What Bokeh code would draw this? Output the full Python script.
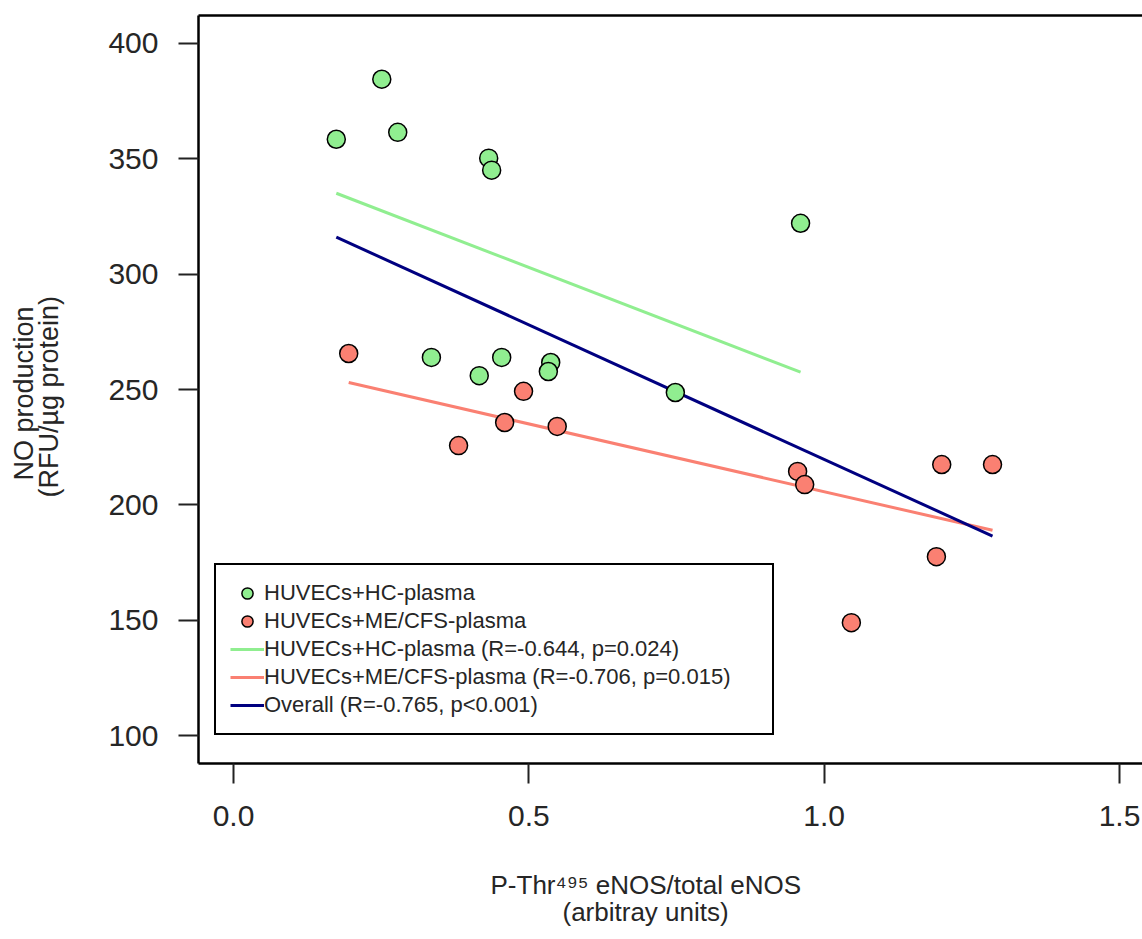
from bokeh.plotting import figure
from bokeh.models import (Range1d, FixedTicker, NumeralTickFormatter, Legend,
                          LegendItem, Title, LinearAxis, CustomJSTickFormatter)
from bokeh.embed import file_html
from bokeh.resources import INLINE

# ---- data ----
hc_x = [0.174, 0.251, 0.278, 0.432, 0.437, 0.960, 0.335, 0.454, 0.416, 0.537, 0.533, 0.748]
hc_y = [358.4, 384.4, 361.4, 350.2, 345.0, 322.0, 263.9, 263.9, 256.0, 261.7, 257.8, 248.7]

me_x = [0.195, 0.381, 0.459, 0.491, 0.548, 0.955, 0.967, 1.199, 1.285, 1.190, 1.046]
me_y = [265.6, 225.7, 235.7, 249.2, 234.0, 214.5, 208.8, 217.5, 217.5, 177.6, 149.0]

fit_hc_x = [0.174, 0.960]
fit_hc_y = [335.0, 257.5]
fit_me_x = [0.195, 1.285]
fit_me_y = [253.0, 189.0]
fit_all_x = [0.174, 1.285]
fit_all_y = [316.0, 186.5]

x_ticks = [0.0, 0.5, 1.0, 1.5]
y_ticks = [100, 150, 200, 250, 300, 350, 400]

legend_labels = [
    "HUVECs+HC-plasma",
    "HUVECs+ME/CFS-plasma",
    "HUVECs+HC-plasma (R=-0.644, p=0.024)",
    "HUVECs+ME/CFS-plasma (R=-0.706, p=0.015)",
    "Overall (R=-0.765, p<0.001)",
]
x_title = ["P-Thr\u2074\u2079\u2075 eNOS/total eNOS", "(arbitray units)"]
y_title = ["NO production", "(RFU/\u00b5g protein)"]

GREEN = "#90EE90"
RED = "#FA8072"
NAVY = "#000080"
FONT = "Liberation Sans"
TXT = "#262626"

p = figure(frame_width=944, frame_height=748,
           min_border_left=198, min_border_right=0, min_border_top=15, min_border_bottom=176,
           x_range=Range1d(-0.0593, 1.5389), y_range=Range1d(88, 412),
           output_backend="svg", toolbar_location=None, title=None,
           background_fill_color="white", border_fill_color="white")

p.grid.visible = False
p.outline_line_color = None

for ax in (p.xaxis[0], p.yaxis[0]):
    ax.axis_line_color = "black"
    ax.axis_line_width = 2.5
    ax.minor_tick_line_color = None
    ax.major_tick_line_color = "#222222"
    ax.major_tick_line_width = 2
    ax.major_tick_in = 0
    ax.major_tick_out = 20
    ax.major_label_text_font = FONT
    ax.major_label_text_font_size = "30px"
    ax.major_label_text_color = TXT

p.xaxis[0].ticker = FixedTicker(ticks=x_ticks)
p.xaxis[0].formatter = NumeralTickFormatter(format="0.0")
p.xaxis[0].major_label_standoff = 22
p.yaxis[0].ticker = FixedTicker(ticks=y_ticks)
p.yaxis[0].major_label_standoff = 20

# top border of the box (no ticks, no labels)
top_ax = LinearAxis(ticker=FixedTicker(ticks=[]), major_tick_out=0, major_tick_in=0,
                    minor_tick_line_color=None, major_label_text_font_size="0px",
                    axis_line_color="black", axis_line_width=2.5)
p.add_layout(top_ax, "above")

# regression lines
r_lhc = p.line(fit_hc_x, fit_hc_y, line_color=GREEN, line_width=3)
r_lme = p.line(fit_me_x, fit_me_y, line_color=RED, line_width=3)
r_lall = p.line(fit_all_x, fit_all_y, line_color=NAVY, line_width=3)

# points
r_hc = p.scatter(hc_x, hc_y, marker="circle", size=18, fill_color=GREEN,
                 line_color="black", line_width=1.5)
r_me = p.scatter(me_x, me_y, marker="circle", size=18, fill_color=RED,
                 line_color="black", line_width=1.5)

legend = Legend(items=[
    LegendItem(label=legend_labels[0], renderers=[r_hc]),
    LegendItem(label=legend_labels[1], renderers=[r_me]),
    LegendItem(label=legend_labels[2], renderers=[r_lhc]),
    LegendItem(label=legend_labels[3], renderers=[r_lme]),
    LegendItem(label=legend_labels[4], renderers=[r_lall]),
], location=(16, 28))
legend.padding = 14
legend.spacing = 0
legend.margin = 0
legend.glyph_width = 34
legend.glyph_height = 28
legend.label_height = 28
legend.label_width = 494
legend.label_standoff = 0
legend.label_text_font = FONT
legend.label_text_font_size = "22px"
legend.label_text_color = TXT
legend.border_line_color = "black"
legend.border_line_alpha = 1
legend.border_line_width = 2.5
legend.background_fill_alpha = 1
p.add_layout(legend, "center")

# spacers: axes with one invisible tick and empty label, used only for room
blank = CustomJSTickFormatter(code="return ''")

def spacer(size, tick):
    return LinearAxis(ticker=FixedTicker(ticks=[tick]), major_tick_out=size, major_tick_in=0,
                      major_tick_line_color=None, minor_tick_line_color=None,
                      major_label_standoff=0, major_label_text_font_size="1px",
                      formatter=blank, axis_line_color=None)

p.add_layout(spacer(41, 0.0), "below")
p.add_layout(Title(text=x_title[0], align="left", offset=292, standoff=0, vertical_align="top",
                   text_font=FONT, text_font_size="26px", text_font_style="normal",
                   text_color=TXT), "below")
p.add_layout(Title(text=x_title[1], align="left", offset=364, standoff=-10, vertical_align="top",
                   text_font=FONT, text_font_size="26px", text_font_style="normal",
                   text_color=TXT), "below")

p.add_layout(spacer(42, 250), "left")
p.add_layout(Title(text=y_title[1], align="left", offset=266, standoff=0, vertical_align="bottom",
                   text_font=FONT, text_font_size="27px", text_font_style="normal",
                   text_color=TXT), "left")
p.add_layout(Title(text=y_title[0], align="left", offset=283, standoff=-14, vertical_align="bottom",
                   text_font=FONT, text_font_size="27px", text_font_style="normal",
                   text_color=TXT), "left")

open("out.html", "w").write(file_html(p, INLINE))
